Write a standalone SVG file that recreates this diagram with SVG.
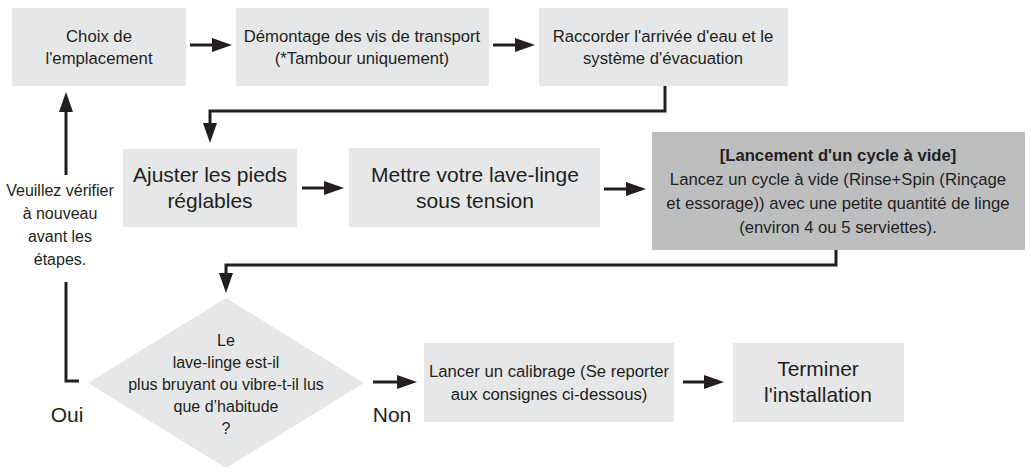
<svg xmlns="http://www.w3.org/2000/svg" width="1031" height="473" viewBox="0 0 1031 473">
<style>
.box{fill:#e6e7e8}
.dark{fill:#bcbec0}
.t{font-family:"Liberation Sans",Arial,sans-serif;fill:#231f20;text-anchor:middle}
.s{font-size:16.7px}
.l{font-size:21px}
.m{font-size:16px}
.b{font-weight:bold}
.ln{fill:none;stroke:#231f20;stroke-width:3}
.ar{marker-end:url(#ah)}
</style>
<defs>
<marker id="ah" markerUnits="userSpaceOnUse" markerWidth="20" markerHeight="14" refX="4" refY="7" orient="auto">
<path d="M0,0 L20,7 L0,14 z" fill="#231f20"/>
</marker>
</defs>
<rect width="1031" height="473" fill="#fff"/>
<g id="n1"><rect class="box" x="12" y="8" width="174" height="78"/>
<text class="t s" x="99" y="42">Choix de</text><text class="t s" x="99" y="64">l'emplacement</text></g>
<g id="n2"><rect class="box" x="236" y="8" width="253" height="78"/>
<text class="t s" x="362" y="42">Démontage des vis de transport</text><text class="t s" x="362" y="64">(*Tambour uniquement)</text></g>
<g id="n3"><rect class="box" x="539" y="8" width="249" height="78"/>
<text class="t s" x="663" y="42">Raccorder l'arrivée d'eau et le</text><text class="t s" x="663" y="64">système d'évacuation</text></g>
<g id="n4"><rect class="box" x="123" y="149" width="174" height="78"/>
<text class="t l" x="210" y="182">Ajuster les pieds</text><text class="t l" x="210" y="208">réglables</text></g>
<g id="n5"><rect class="box" x="349" y="148" width="251" height="79"/>
<text class="t l" x="475" y="182">Mettre votre lave-linge</text><text class="t l" x="475" y="208">sous tension</text></g>
<g id="n6"><rect class="dark" x="652" y="132" width="373" height="118"/>
<text class="t s b" x="838" y="161">[Lancement d'un cycle à vide]</text>
<text class="t s" x="838" y="185">Lancez un cycle à vide (Rinse+Spin (Rinçage</text>
<text class="t s" x="838" y="209">et essorage)) avec une petite quantité de linge</text>
<text class="t s" x="838" y="233">(environ 4 ou 5 serviettes).</text></g>
<g id="n7"><polygon class="box" points="226,298 364,383 226,468 88,383"/>
<text class="t m" x="226" y="345.6">Le</text>
<text class="t m" x="226" y="367.6">lave-linge est-il</text>
<text class="t m" x="226" y="389.6">plus bruyant ou vibre-t-il lus</text>
<text class="t m" x="226" y="411.6">que d’habitude</text>
<text class="t m" x="226" y="433.6">?</text></g>
<g id="n8"><rect class="box" x="424" y="343" width="250" height="79"/>
<text class="t s" x="549" y="377">Lancer un calibrage (Se reporter</text><text class="t s" x="549" y="400">aux consignes ci-dessous)</text></g>
<g id="n9"><rect class="box" x="733" y="343" width="171" height="79"/>
<text class="t l" x="818" y="376">Terminer</text><text class="t l" x="818" y="402">l'installation</text></g>
<g id="labels">
<text class="t m" x="60" y="195.6">Veuillez vérifier</text>
<text class="t m" x="60" y="218.6">à nouveau</text>
<text class="t m" x="60" y="241.6">avant les</text>
<text class="t m" x="60" y="264.6">étapes.</text>
<text class="t l" x="67" y="422">Oui</text>
<text class="t l" x="392" y="422">Non</text>
</g>
<g id="connectors">
<line class="ln ar" x1="190" y1="45" x2="216" y2="45"/>
<line class="ln ar" x1="493" y1="45" x2="519" y2="45"/>
<polyline class="ln ar" points="665,86 665,111 210,111 210,127"/>
<line class="ln ar" x1="302" y1="188" x2="328" y2="188"/>
<line class="ln ar" x1="604" y1="189" x2="630" y2="189"/>
<polyline class="ln ar" points="836,250 836,265 226,265 226,277"/>
<line class="ln ar" x1="373" y1="382" x2="401" y2="382"/>
<line class="ln ar" x1="683" y1="382" x2="708" y2="382"/>
<polyline class="ln" points="79,381 66,381 66,282"/>
<line class="ln ar" x1="66" y1="175" x2="66" y2="108"/>
</g>
</svg>
